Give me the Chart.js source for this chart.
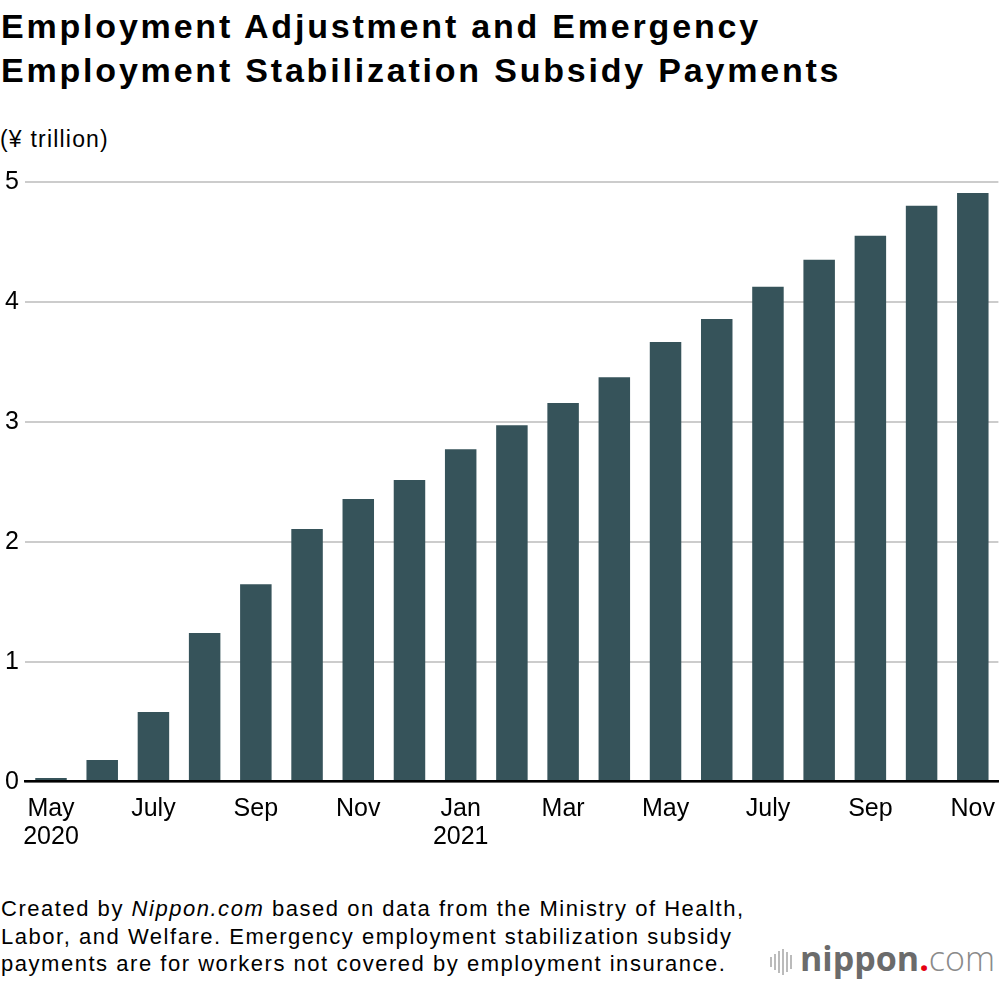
<!DOCTYPE html>
<html><head><meta charset="utf-8">
<script src="https://cdn.jsdelivr.net/npm/chart.js@4"></script>
<style>
html,body{margin:0;padding:0;background:#fff;width:1000px;height:982px;overflow:hidden;font-family:"Liberation Sans",Arial,sans-serif;color:#000}
#title{position:absolute;left:1px;top:4px;font-weight:bold;font-size:34px;line-height:44px;letter-spacing:2.8px;white-space:nowrap}
#unit{position:absolute;left:0;top:126px;font-size:23px;letter-spacing:1.2px}
#wrap{position:absolute;left:0;top:160px;width:1000px;height:692px}
#foot{position:absolute;left:1px;top:895px;font-size:22px;line-height:27.5px;letter-spacing:1.53px;white-space:nowrap}
#logo{position:absolute;left:770px;top:938px;font-size:34px;line-height:40px;white-space:nowrap}
</style></head><body>
<div id="title">Employment Adjustment and Emergency<br>Employment Stabilization Subsidy Payments</div>
<div id="unit">(¥ trillion)</div>
<div id="wrap"><canvas id="c"></canvas></div>
<div id="foot">Created by <i>Nippon.com</i> based on data from the Ministry of Health,<br>Labor, and Welfare. Emergency employment stabilization subsidy<br>payments are for workers not covered by employment insurance.</div>
<div id="logo"><span style="display:inline-block;vertical-align:middle;margin-right:8px;font-size:0">
<span style="display:inline-block;width:2px;height:10px;background:#bbb;margin-right:2px;vertical-align:middle"></span><span style="display:inline-block;width:2px;height:16px;background:#bbb;margin-right:2px;vertical-align:middle"></span><span style="display:inline-block;width:2px;height:22px;background:#bbb;margin-right:2px;vertical-align:middle"></span><span style="display:inline-block;width:2px;height:26px;background:#bbb;margin-right:2px;vertical-align:middle"></span><span style="display:inline-block;width:2px;height:20px;background:#bbb;margin-right:2px;vertical-align:middle"></span><span style="display:inline-block;width:2px;height:14px;background:#bbb;vertical-align:middle"></span></span><span style="font-family:'Open Sans',sans-serif;font-weight:700;color:#6b6b6b">nippon</span><span style="font-family:'Open Sans',sans-serif;font-weight:700;color:#e60012">.</span><span style="font-family:'Open Sans',sans-serif;font-weight:300;color:#8a8a8a">com</span></div>
<script>
const months = ["2020-05","2020-06","2020-07","2020-08","2020-09","2020-10","2020-11","2020-12","2021-01","2021-02","2021-03","2021-04","2021-05","2021-06","2021-07","2021-08","2021-09","2021-10","2021-11"];
const tickLabels = [["May","2020"],"",["July"],"",["Sep"],"",["Nov"],"",["Jan","2021"],"",["Mar"],"",["May"],"",["July"],"",["Sep"],"",["Nov"]];
const payments = [0.03,0.18,0.58,1.24,1.645,2.105,2.355,2.515,2.77,2.97,3.155,3.37,3.665,3.855,4.125,4.35,4.55,4.80,4.905];
const yTicks = [0,1,2,3,4,5];

new Chart(document.getElementById('c'), {
  type: 'bar',
  data: { labels: months, datasets: [{ data: payments, backgroundColor: '#36535a', borderWidth: 0, categoryPercentage: 1, barPercentage: 0.615 }] },
  options: {
    responsive: true, maintainAspectRatio: false, animation: false, devicePixelRatio: 1,
    layout: { padding: { top: 21.7, right: 1.6, left: 5, bottom: 0 } },
    plugins: { legend: { display: false }, tooltip: { enabled: false } },
    scales: {
      x: {
        grid: { display: false, drawTicks: false },
        border: { display: true, color: '#000', width: 2.5, z: 2 },
        ticks: { autoSkip: false, maxRotation: 0, padding: 13, color: '#000',
          font: { family: "'Liberation Sans Narrow','Liberation Sans',Arial", size: 25, lineHeight: 1.12 },
          callback: (v, i) => tickLabels[i] },
        afterFit: s => { s.height = 70.3; s.paddingLeft = 0; s.paddingRight = 0; }
      },
      y: {
        min: 0, max: 5,
        afterBuildTicks: s => { s.ticks = yTicks.map(v => ({ value: v })); },
        grid: { color: '#cccccc', lineWidth: 2, drawTicks: false },
        border: { display: false },
        ticks: { crossAlign: 'far', padding: 0, color: '#000', font: { family: "'Liberation Sans',Arial", size: 25 } },
        afterFit: s => { s.width = 20.4; s.paddingTop = 0; s.paddingBottom = 0; }
      }
    }
  }
});
</script>
</body></html>
